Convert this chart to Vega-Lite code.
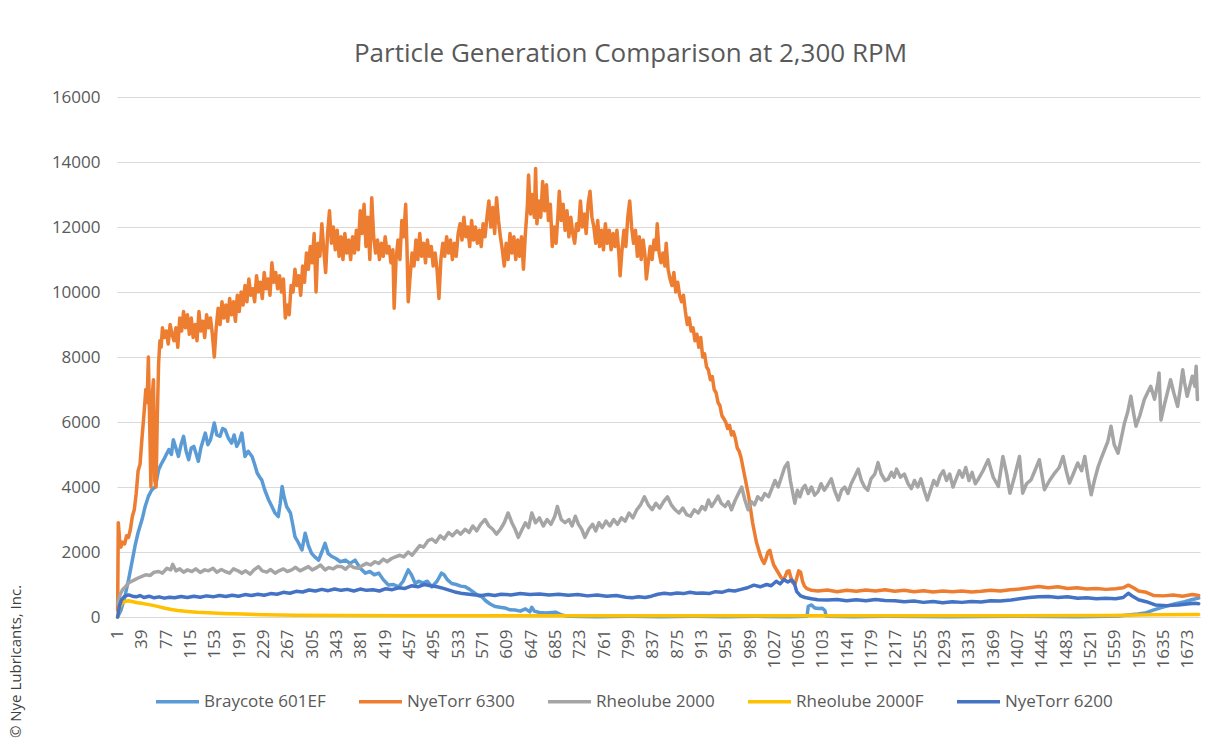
{
"$schema":"https://vega.github.io/schema/vega-lite/v6.json",
"autosize":{"type":"none"},
"width":1083,"height":520,
"padding":{"left":117,"top":97,"right":28,"bottom":121},
"background":"white",
"config":{"font":"Open Sans","view":{"stroke":null},"line":{"strokeWidth":3.5,"strokeJoin":"round","strokeCap":"round"}},
"title":{"text":"Particle Generation Comparison at 2,300 RPM","fontSize":26,"fontWeight":"normal","color":"#595959","anchor":"middle","dx":-28,"offset":21,"font":"Open Sans"},
"datasets":{
"braycote":[{"x":1,"y":0},{"x":6,"y":200},{"x":12,"y":600},{"x":18,"y":1140},{"x":23,"y":1650},{"x":28,"y":2170},{"x":33,"y":2600},{"x":39,"y":2990},{"x":44,"y":3400},{"x":49,"y":3710},{"x":54,"y":3900},{"x":60,"y":4015},{"x":65,"y":4530},{"x":69,"y":4700},{"x":73,"y":4840},{"x":77,"y":5000},{"x":81,"y":5150},{"x":85,"y":5000},{"x":88,"y":5455},{"x":92,"y":5200},{"x":96,"y":4940},{"x":100,"y":5300},{"x":104,"y":5560},{"x":108,"y":5100},{"x":112,"y":4840},{"x":116,"y":5200},{"x":120,"y":5250},{"x":124,"y":5000},{"x":127,"y":4790},{"x":131,"y":5200},{"x":134,"y":5400},{"x":138,"y":5660},{"x":142,"y":5300},{"x":146,"y":5450},{"x":149,"y":5700},{"x":152,"y":5970},{"x":156,"y":5600},{"x":161,"y":5560},{"x":165,"y":5800},{"x":169,"y":5760},{"x":174,"y":5500},{"x":179,"y":5350},{"x":183,"y":5600},{"x":187,"y":5250},{"x":191,"y":5400},{"x":195,"y":5660},{"x":200,"y":4940},{"x":205,"y":5100},{"x":211,"y":4940},{"x":215,"y":4700},{"x":219,"y":4430},{"x":223,"y":4300},{"x":226,"y":4220},{"x":231,"y":3900},{"x":237,"y":3600},{"x":242,"y":3400},{"x":247,"y":3195},{"x":252,"y":3090},{"x":255,"y":3500},{"x":258,"y":4015},{"x":261,"y":3700},{"x":265,"y":3400},{"x":271,"y":3200},{"x":275,"y":2800},{"x":278,"y":2475},{"x":283,"y":2300},{"x":289,"y":2065},{"x":294,"y":2580},{"x":299,"y":2200},{"x":304,"y":1960},{"x":309,"y":1850},{"x":315,"y":1750},{"x":320,"y":2000},{"x":325,"y":2270},{"x":330,"y":1950},{"x":336,"y":1860},{"x":342,"y":1800},{"x":349,"y":1700},{"x":357,"y":1750},{"x":364,"y":1650},{"x":372,"y":1750},{"x":380,"y":1500},{"x":388,"y":1350},{"x":395,"y":1400},{"x":402,"y":1300},{"x":409,"y":1350},{"x":416,"y":1150},{"x":424,"y":985},{"x":432,"y":1000},{"x":440,"y":930},{"x":447,"y":1100},{"x":455,"y":1450},{"x":460,"y":1300},{"x":466,"y":1030},{"x":471,"y":1100},{"x":478,"y":1050},{"x":485,"y":1100},{"x":492,"y":930},{"x":500,"y":1100},{"x":507,"y":1350},{"x":511,"y":1300},{"x":516,"y":1150},{"x":523,"y":1030},{"x":530,"y":1000},{"x":537,"y":950},{"x":544,"y":930},{"x":551,"y":850},{"x":558,"y":750},{"x":565,"y":650},{"x":570,"y":625},{"x":576,"y":500},{"x":583,"y":400},{"x":591,"y":320},{"x":598,"y":300},{"x":606,"y":280},{"x":614,"y":220},{"x":622,"y":215},{"x":630,"y":180},{"x":638,"y":250},{"x":645,"y":160},{"x":648,"y":300},{"x":652,"y":180},{"x":660,"y":140},{"x":670,"y":120},{"x":685,"y":150},{"x":695,"y":60},{"x":705,"y":20},{"x":750,"y":10},{"x":800,"y":20},{"x":850,"y":10},{"x":900,"y":20},{"x":950,"y":10},{"x":1000,"y":20},{"x":1050,"y":10},{"x":1078,"y":20},{"x":1080,"y":330},{"x":1085,"y":370},{"x":1090,"y":280},{"x":1096,"y":260},{"x":1102,"y":270},{"x":1106,"y":200},{"x":1108,"y":20},{"x":1150,"y":10},{"x":1200,"y":20},{"x":1300,"y":10},{"x":1400,"y":20},{"x":1500,"y":10},{"x":1550,"y":20},{"x":1565,"y":30},{"x":1580,"y":60},{"x":1595,"y":90},{"x":1606,"y":120},{"x":1620,"y":220},{"x":1637,"y":320},{"x":1652,"y":400},{"x":1668,"y":470},{"x":1680,"y":540},{"x":1690,"y":580}],
"nt6300":[{"x":1,"y":200},{"x":2,"y":2900},{"x":4,"y":2400},{"x":6,"y":2150},{"x":9,"y":2300},{"x":12,"y":2250},{"x":15,"y":2500},{"x":18,"y":2450},{"x":21,"y":2700},{"x":24,"y":3100},{"x":27,"y":3300},{"x":30,"y":3800},{"x":33,"y":4500},{"x":36,"y":4700},{"x":39,"y":5500},{"x":42,"y":6200},{"x":45,"y":7000},{"x":47,"y":6600},{"x":49,"y":8000},{"x":51,"y":6000},{"x":53,"y":4000},{"x":55,"y":6800},{"x":57,"y":7300},{"x":59,"y":4200},{"x":61,"y":4000},{"x":63,"y":6200},{"x":65,"y":7800},{"x":67,"y":8500},{"x":69,"y":8300},{"x":71,"y":8900},{"x":74,"y":8600},{"x":77,"y":8800},{"x":80,"y":8400},{"x":83,"y":9000},{"x":86,"y":8700},{"x":89,"y":8500},{"x":92,"y":8900},{"x":95,"y":8300},{"x":98,"y":9200},{"x":101,"y":8800},{"x":104,"y":9400},{"x":107,"y":8900},{"x":110,"y":9300},{"x":113,"y":8700},{"x":116,"y":9200},{"x":119,"y":8600},{"x":122,"y":9000},{"x":125,"y":8500},{"x":128,"y":9400},{"x":131,"y":8800},{"x":134,"y":9100},{"x":137,"y":8600},{"x":140,"y":9300},{"x":143,"y":8900},{"x":146,"y":9200},{"x":149,"y":8700},{"x":152,"y":8000},{"x":155,"y":8900},{"x":158,"y":9500},{"x":161,"y":9000},{"x":164,"y":9700},{"x":167,"y":9200},{"x":170,"y":9600},{"x":173,"y":9100},{"x":176,"y":9800},{"x":179,"y":9300},{"x":182,"y":9700},{"x":185,"y":9100},{"x":188,"y":9900},{"x":191,"y":9400},{"x":194,"y":10000},{"x":197,"y":9600},{"x":200,"y":10200},{"x":203,"y":9700},{"x":206,"y":10400},{"x":209,"y":9900},{"x":212,"y":10100},{"x":215,"y":9700},{"x":218,"y":10500},{"x":221,"y":10000},{"x":224,"y":10300},{"x":227,"y":9800},{"x":230,"y":10600},{"x":233,"y":10100},{"x":236,"y":10400},{"x":239,"y":9900},{"x":242,"y":10900},{"x":245,"y":10300},{"x":248,"y":10600},{"x":251,"y":10100},{"x":254,"y":10500},{"x":257,"y":10000},{"x":260,"y":10400},{"x":263,"y":9200},{"x":266,"y":9600},{"x":269,"y":9300},{"x":272,"y":10200},{"x":275,"y":10000},{"x":278,"y":10700},{"x":281,"y":10200},{"x":284,"y":10500},{"x":287,"y":9900},{"x":290,"y":10800},{"x":293,"y":10300},{"x":296,"y":11200},{"x":299,"y":10700},{"x":302,"y":11400},{"x":305,"y":10900},{"x":308,"y":11800},{"x":311,"y":10000},{"x":314,"y":11500},{"x":317,"y":11100},{"x":320,"y":12100},{"x":323,"y":11300},{"x":326,"y":10600},{"x":329,"y":11800},{"x":332,"y":12500},{"x":335,"y":11500},{"x":338,"y":12000},{"x":341,"y":11300},{"x":344,"y":11900},{"x":347,"y":11100},{"x":350,"y":11700},{"x":353,"y":11000},{"x":356,"y":11800},{"x":359,"y":11200},{"x":362,"y":11600},{"x":365,"y":11000},{"x":368,"y":11700},{"x":371,"y":11200},{"x":374,"y":11900},{"x":377,"y":11300},{"x":380,"y":12500},{"x":383,"y":11800},{"x":386,"y":12700},{"x":389,"y":11400},{"x":392,"y":12300},{"x":395,"y":11000},{"x":398,"y":12900},{"x":401,"y":11700},{"x":404,"y":11200},{"x":407,"y":11600},{"x":410,"y":11000},{"x":413,"y":11500},{"x":416,"y":11100},{"x":419,"y":11700},{"x":422,"y":11200},{"x":425,"y":11400},{"x":428,"y":10900},{"x":431,"y":11300},{"x":433,"y":9500},{"x":436,"y":11000},{"x":439,"y":11600},{"x":442,"y":11000},{"x":445,"y":12200},{"x":448,"y":11700},{"x":451,"y":12700},{"x":453,"y":11400},{"x":455,"y":9700},{"x":458,"y":10500},{"x":461,"y":11200},{"x":464,"y":10800},{"x":467,"y":11600},{"x":470,"y":11000},{"x":473,"y":11800},{"x":476,"y":11100},{"x":479,"y":11500},{"x":482,"y":10900},{"x":485,"y":11600},{"x":488,"y":11100},{"x":491,"y":11400},{"x":494,"y":10800},{"x":497,"y":11200},{"x":500,"y":10700},{"x":503,"y":9800},{"x":506,"y":11000},{"x":509,"y":11500},{"x":512,"y":11100},{"x":515,"y":11700},{"x":518,"y":11200},{"x":521,"y":11600},{"x":524,"y":11000},{"x":527,"y":11500},{"x":530,"y":11100},{"x":533,"y":11800},{"x":536,"y":12100},{"x":539,"y":11600},{"x":542,"y":12300},{"x":545,"y":11700},{"x":548,"y":12000},{"x":551,"y":11400},{"x":554,"y":12200},{"x":557,"y":11600},{"x":560,"y":12000},{"x":563,"y":11500},{"x":566,"y":11900},{"x":569,"y":11400},{"x":572,"y":12100},{"x":575,"y":11700},{"x":578,"y":12300},{"x":581,"y":12800},{"x":584,"y":12000},{"x":587,"y":12600},{"x":590,"y":11800},{"x":593,"y":12900},{"x":596,"y":12200},{"x":599,"y":11700},{"x":602,"y":11300},{"x":605,"y":10800},{"x":608,"y":11500},{"x":611,"y":11000},{"x":614,"y":11800},{"x":617,"y":11200},{"x":620,"y":11700},{"x":623,"y":11000},{"x":626,"y":11600},{"x":629,"y":11100},{"x":632,"y":11700},{"x":635,"y":10700},{"x":638,"y":11800},{"x":641,"y":12600},{"x":643,"y":13600},{"x":646,"y":12400},{"x":649,"y":13000},{"x":652,"y":12300},{"x":654,"y":13800},{"x":656,"y":12100},{"x":659,"y":12800},{"x":662,"y":12300},{"x":665,"y":13400},{"x":668,"y":12500},{"x":671,"y":13300},{"x":674,"y":12200},{"x":677,"y":12700},{"x":680,"y":11400},{"x":683,"y":12000},{"x":686,"y":11500},{"x":689,"y":12400},{"x":691,"y":13100},{"x":694,"y":12200},{"x":697,"y":12700},{"x":700,"y":11900},{"x":703,"y":12500},{"x":706,"y":11700},{"x":709,"y":12300},{"x":712,"y":11800},{"x":715,"y":11500},{"x":718,"y":12100},{"x":721,"y":11900},{"x":724,"y":12800},{"x":727,"y":12000},{"x":730,"y":12400},{"x":733,"y":11800},{"x":736,"y":12700},{"x":739,"y":13100},{"x":742,"y":12300},{"x":745,"y":12000},{"x":748,"y":11500},{"x":751,"y":12200},{"x":754,"y":11400},{"x":757,"y":11900},{"x":760,"y":11300},{"x":763,"y":12100},{"x":766,"y":11500},{"x":769,"y":11900},{"x":772,"y":11300},{"x":775,"y":11800},{"x":778,"y":11400},{"x":781,"y":11900},{"x":784,"y":11200},{"x":786,"y":10500},{"x":789,"y":11300},{"x":792,"y":11900},{"x":795,"y":11400},{"x":798,"y":12300},{"x":801,"y":12800},{"x":804,"y":12000},{"x":807,"y":11500},{"x":810,"y":11900},{"x":813,"y":11100},{"x":816,"y":11700},{"x":819,"y":11000},{"x":822,"y":11600},{"x":825,"y":11100},{"x":827,"y":10400},{"x":830,"y":10900},{"x":833,"y":11400},{"x":836,"y":11000},{"x":839,"y":11600},{"x":842,"y":11300},{"x":844,"y":12100},{"x":847,"y":11200},{"x":850,"y":10900},{"x":853,"y":11200},{"x":856,"y":10800},{"x":858,"y":11500},{"x":861,"y":10700},{"x":864,"y":10400},{"x":867,"y":10200},{"x":870,"y":10600},{"x":873,"y":10000},{"x":876,"y":10300},{"x":879,"y":9900},{"x":882,"y":9700},{"x":885,"y":9900},{"x":888,"y":9400},{"x":891,"y":9000},{"x":894,"y":9200},{"x":897,"y":8800},{"x":900,"y":8900},{"x":903,"y":8500},{"x":906,"y":8700},{"x":909,"y":8300},{"x":912,"y":8600},{"x":915,"y":8000},{"x":918,"y":8100},{"x":921,"y":7700},{"x":924,"y":7600},{"x":927,"y":7300},{"x":930,"y":7400},{"x":933,"y":7000},{"x":936,"y":6900},{"x":939,"y":6600},{"x":942,"y":6500},{"x":945,"y":6200},{"x":948,"y":6100},{"x":951,"y":6000},{"x":954,"y":5800},{"x":957,"y":5900},{"x":960,"y":5600},{"x":963,"y":5700},{"x":966,"y":5500},{"x":969,"y":5200},{"x":972,"y":5100},{"x":975,"y":4900},{"x":978,"y":4600},{"x":981,"y":4300},{"x":984,"y":4000},{"x":987,"y":3700},{"x":990,"y":3300},{"x":993,"y":2900},{"x":996,"y":2600},{"x":999,"y":2300},{"x":1002,"y":2100},{"x":1005,"y":1900},{"x":1008,"y":1750},{"x":1011,"y":1650},{"x":1014,"y":1800},{"x":1017,"y":2000},{"x":1020,"y":2050},{"x":1023,"y":1800},{"x":1026,"y":1600},{"x":1029,"y":1500},{"x":1032,"y":1400},{"x":1035,"y":1300},{"x":1038,"y":1200},{"x":1041,"y":1150},{"x":1044,"y":1250},{"x":1047,"y":1400},{"x":1050,"y":1420},{"x":1053,"y":1200},{"x":1056,"y":1050},{"x":1059,"y":1000},{"x":1062,"y":1200},{"x":1065,"y":1420},{"x":1068,"y":1380},{"x":1071,"y":1100},{"x":1074,"y":950},{"x":1078,"y":870},{"x":1085,"y":820},{"x":1095,"y":800},{"x":1110,"y":830},{"x":1125,"y":780},{"x":1140,"y":820},{"x":1155,"y":790},{"x":1170,"y":830},{"x":1185,"y":800},{"x":1200,"y":840},{"x":1215,"y":790},{"x":1230,"y":820},{"x":1245,"y":780},{"x":1260,"y":810},{"x":1275,"y":770},{"x":1290,"y":800},{"x":1305,"y":780},{"x":1320,"y":800},{"x":1335,"y":770},{"x":1350,"y":790},{"x":1365,"y":820},{"x":1380,"y":800},{"x":1395,"y":840},{"x":1410,"y":860},{"x":1425,"y":900},{"x":1440,"y":940},{"x":1455,"y":900},{"x":1470,"y":930},{"x":1485,"y":880},{"x":1500,"y":900},{"x":1515,"y":860},{"x":1530,"y":880},{"x":1545,"y":850},{"x":1560,"y":870},{"x":1572,"y":900},{"x":1580,"y":980},{"x":1588,"y":900},{"x":1596,"y":800},{"x":1608,"y":760},{"x":1620,"y":660},{"x":1635,"y":650},{"x":1650,"y":680},{"x":1665,"y":640},{"x":1680,"y":690},{"x":1690,"y":660}],
"rh2000":[{"x":1,"y":400},{"x":5,"y":700},{"x":9,"y":850},{"x":14,"y":950},{"x":18,"y":1050},{"x":23,"y":1100},{"x":28,"y":1150},{"x":33,"y":1200},{"x":39,"y":1250},{"x":45,"y":1300},{"x":52,"y":1280},{"x":58,"y":1380},{"x":65,"y":1400},{"x":71,"y":1350},{"x":78,"y":1500},{"x":84,"y":1450},{"x":87,"y":1620},{"x":92,"y":1420},{"x":98,"y":1480},{"x":104,"y":1380},{"x":110,"y":1450},{"x":117,"y":1400},{"x":123,"y":1480},{"x":130,"y":1370},{"x":137,"y":1450},{"x":143,"y":1420},{"x":150,"y":1500},{"x":156,"y":1380},{"x":163,"y":1460},{"x":169,"y":1400},{"x":176,"y":1350},{"x":182,"y":1480},{"x":189,"y":1420},{"x":195,"y":1350},{"x":201,"y":1420},{"x":208,"y":1320},{"x":214,"y":1450},{"x":221,"y":1550},{"x":227,"y":1420},{"x":234,"y":1380},{"x":240,"y":1460},{"x":247,"y":1350},{"x":253,"y":1420},{"x":260,"y":1480},{"x":266,"y":1400},{"x":273,"y":1450},{"x":279,"y":1530},{"x":286,"y":1420},{"x":292,"y":1480},{"x":299,"y":1550},{"x":305,"y":1450},{"x":312,"y":1520},{"x":318,"y":1600},{"x":325,"y":1450},{"x":331,"y":1520},{"x":338,"y":1480},{"x":344,"y":1560},{"x":351,"y":1550},{"x":357,"y":1470},{"x":364,"y":1600},{"x":370,"y":1520},{"x":377,"y":1500},{"x":383,"y":1580},{"x":390,"y":1650},{"x":396,"y":1600},{"x":403,"y":1700},{"x":409,"y":1650},{"x":416,"y":1780},{"x":422,"y":1700},{"x":429,"y":1800},{"x":435,"y":1850},{"x":442,"y":1900},{"x":448,"y":1850},{"x":455,"y":2000},{"x":461,"y":1900},{"x":467,"y":2050},{"x":473,"y":2200},{"x":479,"y":2150},{"x":486,"y":2350},{"x":492,"y":2400},{"x":498,"y":2300},{"x":505,"y":2500},{"x":511,"y":2400},{"x":518,"y":2600},{"x":524,"y":2500},{"x":531,"y":2650},{"x":537,"y":2550},{"x":544,"y":2700},{"x":550,"y":2600},{"x":556,"y":2800},{"x":562,"y":2650},{"x":568,"y":2850},{"x":575,"y":3000},{"x":581,"y":2800},{"x":587,"y":2700},{"x":593,"y":2550},{"x":599,"y":2700},{"x":605,"y":2900},{"x":611,"y":3200},{"x":617,"y":2900},{"x":622,"y":2700},{"x":627,"y":2450},{"x":633,"y":2700},{"x":638,"y":2900},{"x":643,"y":2750},{"x":648,"y":3200},{"x":654,"y":2900},{"x":660,"y":3050},{"x":666,"y":2800},{"x":672,"y":3000},{"x":678,"y":2850},{"x":684,"y":3100},{"x":688,"y":3400},{"x":694,"y":3000},{"x":700,"y":2900},{"x":706,"y":3000},{"x":711,"y":2800},{"x":716,"y":3100},{"x":721,"y":2850},{"x":726,"y":2700},{"x":731,"y":2450},{"x":737,"y":2700},{"x":743,"y":2850},{"x":748,"y":2650},{"x":753,"y":2900},{"x":758,"y":2750},{"x":764,"y":2950},{"x":770,"y":2800},{"x":776,"y":3000},{"x":782,"y":2850},{"x":788,"y":3050},{"x":794,"y":2950},{"x":800,"y":3200},{"x":806,"y":3050},{"x":812,"y":3300},{"x":818,"y":3450},{"x":824,"y":3700},{"x":830,"y":3450},{"x":836,"y":3300},{"x":842,"y":3500},{"x":848,"y":3350},{"x":854,"y":3550},{"x":860,"y":3700},{"x":866,"y":3450},{"x":872,"y":3300},{"x":878,"y":3200},{"x":884,"y":3350},{"x":890,"y":3150},{"x":896,"y":3100},{"x":902,"y":3300},{"x":908,"y":3200},{"x":914,"y":3400},{"x":919,"y":3300},{"x":924,"y":3600},{"x":929,"y":3400},{"x":934,"y":3550},{"x":939,"y":3720},{"x":944,"y":3500},{"x":950,"y":3400},{"x":955,"y":3550},{"x":960,"y":3300},{"x":966,"y":3600},{"x":971,"y":3800},{"x":976,"y":4000},{"x":981,"y":3600},{"x":986,"y":3300},{"x":991,"y":3550},{"x":996,"y":3450},{"x":1001,"y":3700},{"x":1007,"y":3600},{"x":1012,"y":3800},{"x":1018,"y":3700},{"x":1023,"y":3950},{"x":1028,"y":4200},{"x":1033,"y":4000},{"x":1038,"y":4300},{"x":1043,"y":4600},{"x":1048,"y":4750},{"x":1052,"y":4200},{"x":1056,"y":3800},{"x":1059,"y":3500},{"x":1063,"y":3900},{"x":1067,"y":3700},{"x":1071,"y":3950},{"x":1075,"y":4050},{"x":1080,"y":3800},{"x":1085,"y":4000},{"x":1090,"y":3750},{"x":1095,"y":3850},{"x":1100,"y":4100},{"x":1105,"y":3900},{"x":1110,"y":4050},{"x":1116,"y":4250},{"x":1121,"y":3900},{"x":1127,"y":3600},{"x":1132,"y":3900},{"x":1137,"y":4000},{"x":1142,"y":3800},{"x":1147,"y":4100},{"x":1152,"y":4300},{"x":1158,"y":4550},{"x":1163,"y":4200},{"x":1168,"y":4000},{"x":1173,"y":3900},{"x":1178,"y":4250},{"x":1184,"y":4400},{"x":1189,"y":4750},{"x":1194,"y":4400},{"x":1200,"y":4200},{"x":1205,"y":4250},{"x":1210,"y":4450},{"x":1214,"y":4300},{"x":1218,"y":4550},{"x":1224,"y":4300},{"x":1230,"y":4400},{"x":1236,"y":4100},{"x":1241,"y":3950},{"x":1246,"y":4200},{"x":1251,"y":4000},{"x":1256,"y":4250},{"x":1261,"y":3900},{"x":1266,"y":3600},{"x":1271,"y":3900},{"x":1276,"y":4200},{"x":1281,"y":4050},{"x":1286,"y":4350},{"x":1291,"y":4500},{"x":1296,"y":4200},{"x":1301,"y":4400},{"x":1306,"y":4000},{"x":1311,"y":4250},{"x":1316,"y":4500},{"x":1321,"y":4300},{"x":1326,"y":4600},{"x":1331,"y":4200},{"x":1336,"y":4450},{"x":1341,"y":4100},{"x":1345,"y":4220},{"x":1353,"y":4500},{"x":1361,"y":4840},{"x":1369,"y":4300},{"x":1377,"y":4015},{"x":1384,"y":4940},{"x":1390,"y":4400},{"x":1395,"y":3810},{"x":1402,"y":4300},{"x":1410,"y":4940},{"x":1415,"y":3810},{"x":1421,"y":4100},{"x":1428,"y":4220},{"x":1434,"y":4500},{"x":1441,"y":4840},{"x":1449,"y":3915},{"x":1457,"y":4200},{"x":1465,"y":4430},{"x":1472,"y":4600},{"x":1478,"y":4940},{"x":1483,"y":4500},{"x":1488,"y":4120},{"x":1494,"y":4400},{"x":1501,"y":4740},{"x":1507,"y":4500},{"x":1512,"y":4940},{"x":1517,"y":4300},{"x":1522,"y":3760},{"x":1527,"y":4200},{"x":1533,"y":4630},{"x":1538,"y":4900},{"x":1543,"y":5150},{"x":1548,"y":5400},{"x":1553,"y":5870},{"x":1558,"y":5300},{"x":1564,"y":5040},{"x":1569,"y":5500},{"x":1574,"y":5970},{"x":1579,"y":6300},{"x":1584,"y":6790},{"x":1588,"y":6300},{"x":1592,"y":5870},{"x":1598,"y":6200},{"x":1605,"y":6690},{"x":1610,"y":6900},{"x":1615,"y":7100},{"x":1621,"y":6700},{"x":1626,"y":7200},{"x":1628,"y":7510},{"x":1631,"y":6060},{"x":1636,"y":6500},{"x":1641,"y":6900},{"x":1646,"y":7300},{"x":1651,"y":6900},{"x":1657,"y":6480},{"x":1661,"y":7000},{"x":1665,"y":7610},{"x":1668,"y":7200},{"x":1672,"y":6790},{"x":1676,"y":7100},{"x":1680,"y":7410},{"x":1684,"y":7100},{"x":1686,"y":7715},{"x":1688,"y":6690}],
"rh2000f":[{"x":1,"y":0},{"x":4,"y":300},{"x":8,"y":430},{"x":12,"y":480},{"x":18,"y":500},{"x":25,"y":470},{"x":32,"y":440},{"x":39,"y":420},{"x":50,"y":380},{"x":58,"y":350},{"x":65,"y":320},{"x":75,"y":270},{"x":85,"y":230},{"x":95,"y":200},{"x":110,"y":170},{"x":125,"y":145},{"x":143,"y":130},{"x":165,"y":110},{"x":195,"y":90},{"x":230,"y":70},{"x":280,"y":55},{"x":350,"y":45},{"x":450,"y":40},{"x":550,"y":35},{"x":650,"y":40},{"x":800,"y":35},{"x":950,"y":40},{"x":1100,"y":35},{"x":1250,"y":40},{"x":1400,"y":40},{"x":1550,"y":50},{"x":1620,"y":70},{"x":1690,"y":80}],
"nt6200":[{"x":1,"y":0},{"x":4,"y":350},{"x":7,"y":524},{"x":11,"y":620},{"x":15,"y":660},{"x":18,"y":680},{"x":24,"y":640},{"x":30,"y":620},{"x":36,"y":660},{"x":42,"y":600},{"x":50,"y":640},{"x":58,"y":590},{"x":66,"y":620},{"x":74,"y":580},{"x":82,"y":610},{"x":90,"y":590},{"x":100,"y":630},{"x":110,"y":600},{"x":120,"y":640},{"x":130,"y":610},{"x":140,"y":650},{"x":150,"y":620},{"x":160,"y":660},{"x":170,"y":630},{"x":180,"y":670},{"x":190,"y":640},{"x":200,"y":690},{"x":210,"y":660},{"x":220,"y":700},{"x":230,"y":670},{"x":240,"y":720},{"x":250,"y":700},{"x":260,"y":760},{"x":270,"y":730},{"x":280,"y":790},{"x":290,"y":770},{"x":300,"y":830},{"x":310,"y":800},{"x":320,"y":850},{"x":330,"y":810},{"x":340,"y":860},{"x":350,"y":820},{"x":360,"y":850},{"x":370,"y":800},{"x":380,"y":860},{"x":390,"y":820},{"x":400,"y":840},{"x":410,"y":800},{"x":420,"y":870},{"x":430,"y":840},{"x":440,"y":900},{"x":450,"y":880},{"x":460,"y":960},{"x":470,"y":930},{"x":480,"y":1000},{"x":490,"y":960},{"x":500,"y":930},{"x":510,"y":880},{"x":520,"y":820},{"x":530,"y":760},{"x":540,"y":720},{"x":550,"y":700},{"x":560,"y":680},{"x":570,"y":660},{"x":580,"y":690},{"x":590,"y":660},{"x":600,"y":700},{"x":615,"y":680},{"x":630,"y":720},{"x":645,"y":690},{"x":660,"y":710},{"x":675,"y":680},{"x":690,"y":700},{"x":705,"y":670},{"x":720,"y":690},{"x":735,"y":650},{"x":750,"y":680},{"x":765,"y":640},{"x":780,"y":660},{"x":795,"y":610},{"x":805,"y":590},{"x":815,"y":620},{"x":825,"y":600},{"x":835,"y":640},{"x":845,"y":700},{"x":855,"y":730},{"x":865,"y":710},{"x":875,"y":740},{"x":885,"y":720},{"x":895,"y":760},{"x":905,"y":730},{"x":915,"y":740},{"x":925,"y":720},{"x":935,"y":780},{"x":945,"y":760},{"x":955,"y":820},{"x":965,"y":800},{"x":975,"y":850},{"x":985,"y":900},{"x":995,"y":980},{"x":1005,"y":930},{"x":1015,"y":1000},{"x":1022,"y":960},{"x":1030,"y":1100},{"x":1036,"y":1020},{"x":1042,"y":1150},{"x":1048,"y":1080},{"x":1054,"y":1140},{"x":1058,"y":1050},{"x":1062,"y":780},{"x":1068,"y":650},{"x":1075,"y":600},{"x":1085,"y":560},{"x":1095,"y":530},{"x":1110,"y":520},{"x":1125,"y":540},{"x":1140,"y":500},{"x":1155,"y":530},{"x":1170,"y":500},{"x":1185,"y":540},{"x":1200,"y":510},{"x":1215,"y":500},{"x":1230,"y":470},{"x":1245,"y":490},{"x":1260,"y":450},{"x":1275,"y":480},{"x":1290,"y":440},{"x":1305,"y":470},{"x":1320,"y":450},{"x":1335,"y":480},{"x":1350,"y":460},{"x":1365,"y":500},{"x":1380,"y":490},{"x":1397,"y":525},{"x":1410,"y":560},{"x":1425,"y":600},{"x":1440,"y":620},{"x":1455,"y":630},{"x":1470,"y":600},{"x":1485,"y":620},{"x":1501,"y":575},{"x":1515,"y":590},{"x":1530,"y":560},{"x":1545,"y":580},{"x":1560,"y":560},{"x":1572,"y":600},{"x":1580,"y":730},{"x":1588,"y":620},{"x":1596,"y":530},{"x":1608,"y":470},{"x":1622,"y":370},{"x":1640,"y":350},{"x":1658,"y":370},{"x":1672,"y":400},{"x":1684,"y":420},{"x":1690,"y":410}]
},
"encoding":{
"x":{"field":"x","type":"quantitative","scale":{"domain":[0,1692],"nice":false,"zero":false},
"axis":{"title":null,"values":[1,39,77,115,153,191,229,267,305,343,381,419,457,495,533,571,609,647,685,723,761,799,837,875,913,951,989,1027,1065,1103,1141,1179,1217,1255,1293,1331,1369,1407,1445,1483,1521,1559,1597,1635,1673],"format":"d","labelAngle":-90,"labelFontSize":17,"labelColor":"#595959","labelPadding":12,"ticks":false,"grid":false,"domainColor":"#d9d9d9","domainWidth":1,"labelOverlap":false,"labelFlush":false}},
"y":{"field":"y","type":"quantitative","scale":{"domain":[0,16000],"nice":false},
"axis":{"title":"© Nye Lubricants, Inc.","titleFontSize":15,"titleFontWeight":"normal","titleColor":"#404040","titleX":-102,"titleY":564,"titleAngle":270,"titleAlign":"center","titleBaseline":"middle","values":[0,2000,4000,6000,8000,10000,12000,14000,16000],"format":"d","labelFontSize":17,"labelColor":"#595959","labelPadding":17,"ticks":false,"domain":false,"grid":true,"gridColor":"#d9d9d9","gridWidth":1}}
},
"layer":[
{"data":{"name":"braycote"},"mark":{"type":"line"},"encoding":{"color":{"datum":"Braycote 601EF","type":"nominal","scale":{"domain":["Braycote 601EF","NyeTorr 6300","Rheolube 2000","Rheolube 2000F","NyeTorr 6200"],"range":["#5B9BD5","#ED7D31","#A5A5A5","#FFC000","#4472C4"]},"legend":{"title":null,"orient":"none","legendX":37,"legendY":581,"direction":"horizontal","symbolType":"stroke","symbolSize":1849,"symbolStrokeWidth":4,"labelFontSize":17,"labelColor":"#595959","labelOffset":3,"columnPadding":31}}}},
{"data":{"name":"nt6300"},"mark":{"type":"line"},"encoding":{"color":{"datum":"NyeTorr 6300","type":"nominal"}}},
{"data":{"name":"rh2000"},"mark":{"type":"line"},"encoding":{"color":{"datum":"Rheolube 2000","type":"nominal"}}},
{"data":{"name":"rh2000f"},"mark":{"type":"line"},"encoding":{"color":{"datum":"Rheolube 2000F","type":"nominal"}}},
{"data":{"name":"nt6200"},"mark":{"type":"line"},"encoding":{"color":{"datum":"NyeTorr 6200","type":"nominal"}}}
]
}
